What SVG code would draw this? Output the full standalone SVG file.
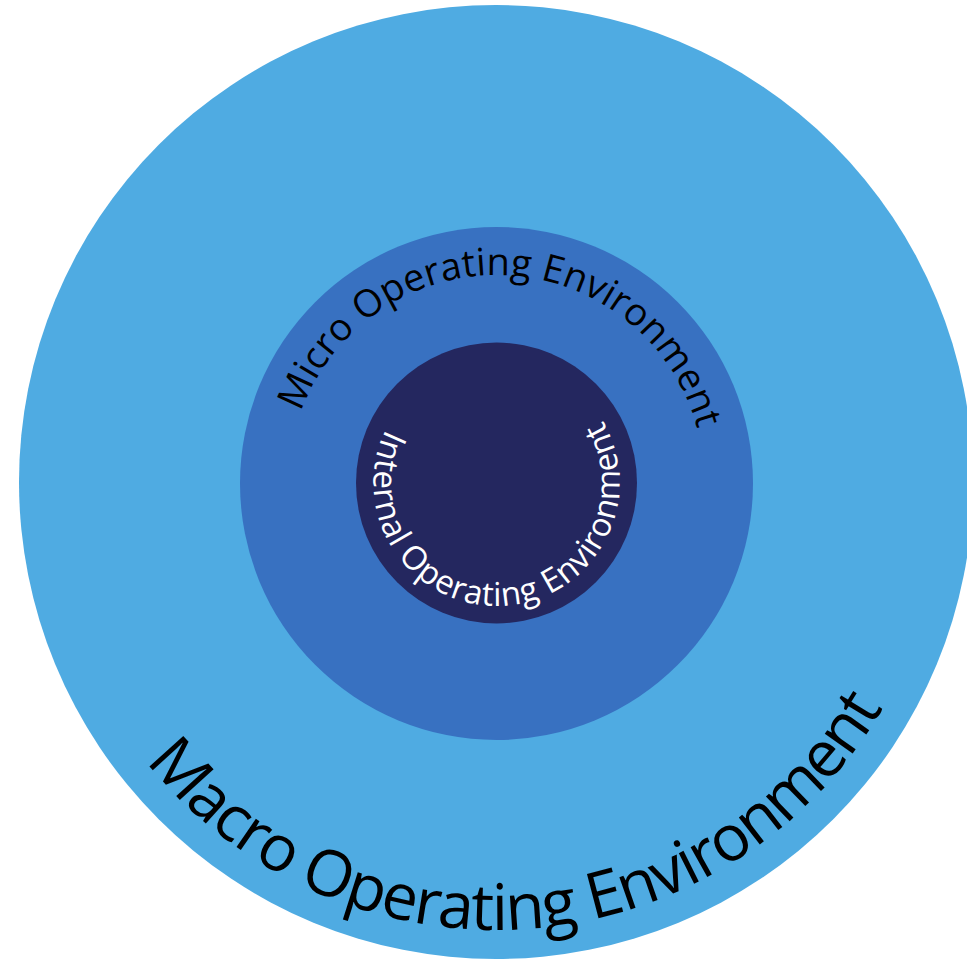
<svg xmlns="http://www.w3.org/2000/svg" xmlns:xlink="http://www.w3.org/1999/xlink" width="967" height="960" viewBox="0 0 967 960">
  <style>
    .lbl { font-family: "Open Sans", "Noto Sans", "Liberation Sans", sans-serif; font-weight: 400; }
    .dark { fill: #000000; }
    .light { fill: #ffffff; }
  </style>
  <defs>
    <path id="macroPath" d="M145.9,761.5 A448,448 0 0,0 882.8,708.0" fill="none"/>
    <path id="microPath" d="M301.0,411.9 A208,208 0 0,1 697.4,429.2" fill="none"/>
    <path id="internalPath" d="M385.9,429.1 A123,123 0 1,0 602.5,420.6" fill="none"/>
  </defs>
  <rect width="967" height="960" fill="#ffffff"/>
  <g id="macro">
    <circle cx="496" cy="482" r="477" fill="#4FABE2"/>
    <text class="lbl dark" font-size="64"><textPath xlink:href="#macroPath" href="#macroPath" textLength="869" lengthAdjust="spacing">Macro Operating Environment</textPath></text>
  </g>
  <g id="micro">
    <circle cx="496.5" cy="483.5" r="256.5" fill="#3871C1"/>
    <text class="lbl dark" font-size="38"><textPath xlink:href="#microPath" href="#microPath" textLength="526" lengthAdjust="spacing">Micro Operating Environment</textPath></text>
  </g>
  <g id="internal">
    <circle cx="496.5" cy="483" r="140.5" fill="#24275F"/>
    <text class="lbl light" font-size="33"><textPath xlink:href="#internalPath" href="#internalPath" textLength="507" lengthAdjust="spacing">Internal Operating Environment</textPath></text>
  </g>
  <g id="connectors"/>
</svg>
